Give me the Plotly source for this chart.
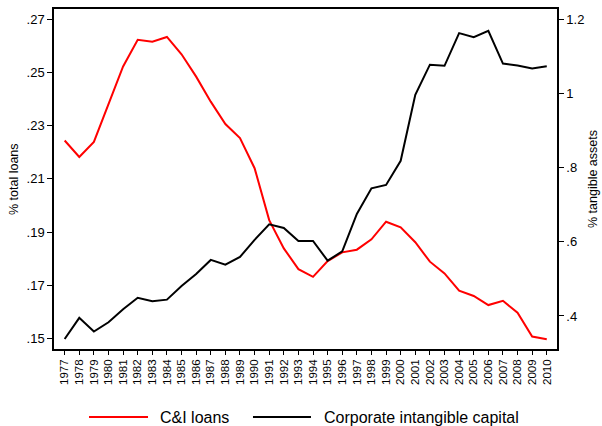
import plotly.graph_objects as go

years = list(range(1977, 2011))
ci_loans = [0.2244, 0.2182, 0.2239, 0.2384, 0.2522, 0.2622, 0.2615, 0.2633, 0.2568, 0.2484,
            0.2390, 0.2306, 0.2253, 0.2140, 0.1945, 0.1839, 0.1761, 0.1732, 0.1791, 0.1824,
            0.1834, 0.1873, 0.1939, 0.1918, 0.1862, 0.1789, 0.1745, 0.1680, 0.1660, 0.1626,
            0.1642, 0.1597, 0.1508, 0.1498]
intangible = [0.338, 0.395, 0.358, 0.383, 0.418, 0.449, 0.440, 0.444, 0.481, 0.513,
              0.551, 0.538, 0.559, 0.605, 0.647, 0.637, 0.602, 0.602, 0.549, 0.574,
              0.675, 0.744, 0.753, 0.818, 0.996, 1.077, 1.074, 1.162, 1.151, 1.168,
              1.080, 1.075, 1.067, 1.073]
left_ticks = [0.15, 0.17, 0.19, 0.21, 0.23, 0.25, 0.27]
left_labels = [".15", ".17", ".19", ".21", ".23", ".25", ".27"]
right_ticks = [0.4, 0.6, 0.8, 1.0, 1.2]
right_labels = [".4", ".6", ".8", "1", "1.2"]
series_names = ["C&I loans", "Corporate intangible capital"]
series_colors = ["#ff0000", "#000000"]

FONT = "Liberation Sans, Arial, sans-serif"

fig = go.Figure()
fig.add_trace(go.Scatter(x=years, y=ci_loans, mode="lines", name=series_names[0],
                         line=dict(color=series_colors[0], width=2), yaxis="y"))
fig.add_trace(go.Scatter(x=years, y=intangible, mode="lines", name=series_names[1],
                         line=dict(color=series_colors[1], width=2), yaxis="y2"))

# manual legend (wide line samples like the original)
leg_y = -0.2
leg_items = [(0.0696, 0.1869, 0.2068), (0.3956, 0.5109, 0.5328)]
shapes = []
annotations = []
for (x0, x1, xt), name, col in zip(leg_items, series_names, series_colors):
    shapes.append(dict(type="line", xref="paper", yref="paper", x0=x0, x1=x1,
                       y0=leg_y, y1=leg_y, line=dict(color=col, width=2)))
    annotations.append(dict(text=name, xref="paper", yref="paper", x=xt, y=leg_y,
                            xanchor="left", yanchor="middle", showarrow=False,
                            font=dict(size=16)))

annotations += [
    dict(text="% total loans", xref="paper", yref="paper", x=-0.0795, y=0.5,
         xanchor="center", yanchor="middle", textangle=-90, showarrow=False,
         font=dict(size=12.5)),
    dict(text="% tangible assets", xref="paper", yref="paper", x=1.0716, y=0.5,
         xanchor="center", yanchor="middle", textangle=-90, showarrow=False,
         font=dict(size=12.5)),
]

fig.update_layout(
    width=602, height=426,
    margin=dict(l=54, r=45, t=9, b=77, autoexpand=False),
    paper_bgcolor="white", plot_bgcolor="white",
    font=dict(family=FONT, color="black", size=12),
    showlegend=False,
    xaxis=dict(range=[1976.27, 2010.7], tickmode="array", tickvals=years,
               ticktext=[str(y) for y in years], tickangle=-90,
               tickfont=dict(size=11.5), ticks="outside", ticklen=4, tickcolor="black",
               showline=True, linecolor="black", linewidth=1.5, mirror=True,
               showgrid=False, zeroline=False, automargin=False),
    yaxis=dict(range=[0.1461, 0.2738], tickmode="array", tickvals=left_ticks,
               ticktext=left_labels, tickfont=dict(size=13), ticks="outside", ticklen=5,
               tickcolor="black", showline=True, linecolor="black", linewidth=1.5,
               showgrid=False, zeroline=False, automargin=False),
    yaxis2=dict(range=[0.311, 1.227], overlaying="y", side="right", tickmode="array",
                tickvals=right_ticks, ticktext=right_labels, tickfont=dict(size=13),
                ticks="outside", ticklen=5, tickcolor="black", showline=True,
                linecolor="black", linewidth=1.5, showgrid=False, zeroline=False,
                automargin=False),
    shapes=shapes,
    annotations=annotations,
)

fig.write_html("out.html", config={"displayModeBar": False},
               post_script="document.body.style.margin='0';document.body.style.padding='0';document.body.style.overflow='hidden';")
